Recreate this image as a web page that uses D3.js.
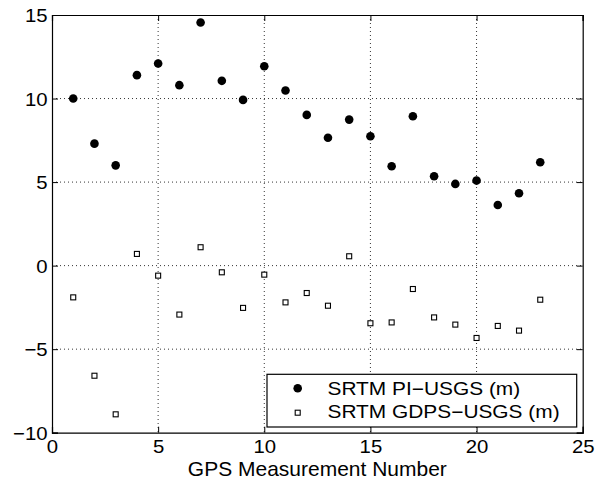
<!DOCTYPE html>
<meta charset="utf-8">
<script src="https://cdnjs.cloudflare.com/ajax/libs/d3/7.8.5/d3.min.js"></script>
<style>
  body { margin: 0; background: #fff; }
  text { font-family: "Liberation Sans", Arial, sans-serif; fill: #000; }
</style>
<div id="my_dataviz"></div>
<script>

// measurement numbers
var gpsNum = d3.range(1, 24);

// SRTM PI - USGS (m)
var piUsgs = [10.0, 7.3, 6.0, 11.4, 12.1, 10.8, 14.55, 11.06, 9.92, 11.93, 10.48, 9.02,
              7.65, 8.74, 7.74, 5.95, 8.94, 5.35, 4.89, 5.09, 3.63, 4.33, 6.19];

// SRTM GDPS - USGS (m)
var gdpsUsgs = [-1.9, -6.59, -8.9, 0.7, -0.6, -2.93, 1.1, -0.4, -2.53, -0.54, -2.2, -1.64,
                -2.4, 0.56, -3.45, -3.4, -1.4, -3.1, -3.53, -4.33, -3.61, -3.89, -2.04];

var xTicks = [0, 5, 10, 15, 20, 25];
var yTicks = [-10, -5, 0, 5, 10, 15];
var seriesNames = ["SRTM PI\u2212USGS (m)", "SRTM GDPS\u2212USGS (m)"];

var W = 605, H = 483;
var margin = {top: 15, right: 22.3, bottom: 50.3, left: 52},
    width = W - margin.left - margin.right,
    height = H - margin.top - margin.bottom;

var svg = d3.select("#my_dataviz").append("svg")
    .attr("width", W)
    .attr("height", H)
  .append("g")
    .attr("transform", "translate(" + margin.left + "," + margin.top + ")");

var x = d3.scaleLinear().domain([0, 25]).range([0, width]);
var y = d3.scaleLinear().domain([-10, 15]).range([height, 0]);

function fmt(d) { return d < 0 ? "\u2212" + Math.abs(d) : "" + d; }

// grid
svg.append("g").selectAll("line")
    .data(xTicks.slice(1, -1))
  .enter().append("line")
    .attr("x1", function(d) { return x(d); })
    .attr("x2", function(d) { return x(d); })
    .attr("y1", 0).attr("y2", height)
    .attr("stroke", "#000").attr("stroke-width", 0.8)
    .attr("stroke-dasharray", "1,3");

svg.append("g").selectAll("line")
    .data(yTicks.slice(1, -1))
  .enter().append("line")
    .attr("y1", function(d) { return y(d); })
    .attr("y2", function(d) { return y(d); })
    .attr("x1", 0).attr("x2", width)
    .attr("stroke", "#000").attr("stroke-width", 0.8)
    .attr("stroke-dasharray", "1,3");

// axes, inward ticks on all four sides
var tk = 6;
var xAxis = svg.append("g")
    .attr("transform", "translate(0," + height + ")")
    .call(d3.axisBottom(x).tickValues(xTicks).tickSize(-tk).tickPadding(7).tickFormat(fmt));
var xTop = svg.append("g")
    .call(d3.axisTop(x).tickValues(xTicks).tickSize(-tk).tickFormat(""));
var yAxis = svg.append("g")
    .call(d3.axisLeft(y).tickValues(yTicks).tickSize(-tk).tickPadding(4).tickFormat(fmt));
var yRight = svg.append("g")
    .attr("transform", "translate(" + width + ",0)")
    .call(d3.axisRight(y).tickValues(yTicks).tickSize(-tk).tickFormat(""));

[xAxis, xTop, yAxis, yRight].forEach(function(a) {
  a.select(".domain").attr("stroke", "#000").attr("stroke-width", 1.2);
  a.selectAll(".tick line").attr("stroke", "#000");
  a.selectAll("text")
      .style("font-size", "18.5px")
      .attr("fill", "#000")
      .attr("transform", "scale(1.1,1)");
});
yAxis.selectAll(".tick text").attr("dy", "0.36em");

// points
svg.append("g").selectAll("circle")
    .data(gpsNum)
  .enter().append("circle")
    .attr("cx", function(d) { return x(d); })
    .attr("cy", function(d, i) { return y(piUsgs[i]); })
    .attr("r", 4.3)
    .attr("fill", "#000");

var sq = 5;
svg.append("g").selectAll("rect")
    .data(gpsNum)
  .enter().append("rect")
    .attr("x", function(d) { return x(d) - sq / 2; })
    .attr("y", function(d, i) { return y(gdpsUsgs[i]) - sq / 2; })
    .attr("width", sq).attr("height", sq)
    .attr("fill", "#fff").attr("stroke", "#000").attr("stroke-width", 1.1);

// x label
svg.append("text")
    .attr("transform", "translate(" + (width / 2) + "," + (height + 43.3) + ") scale(1.05,1)")
    .attr("text-anchor", "middle")
    .style("font-size", "20px")
    .text("GPS Measurement Number");

// legend
var lg = svg.append("g").attr("transform", "translate(" + (267 - margin.left) + "," + (374.3 - margin.top) + ")");
lg.append("rect")
    .attr("width", 309.7).attr("height", 52.7)
    .attr("fill", "#fff").attr("stroke", "#000").attr("stroke-width", 1.2);

lg.append("circle").attr("cx", 30.7).attr("cy", 14).attr("r", 4.3).attr("fill", "#000");
lg.append("rect").attr("x", 30.7 - sq / 2).attr("y", 38.4 - sq / 2).attr("width", sq).attr("height", sq)
    .attr("fill", "#fff").attr("stroke", "#000").attr("stroke-width", 1.1);

lg.selectAll("text.lab")
    .data(seriesNames)
  .enter().append("text")
    .attr("class", "lab")
    .attr("transform", function(d, i) { return "translate(60.5," + (20.7 + i * 23) + ") scale(1.16,1)"; })
    .style("font-size", "18px")
    .text(function(d) { return d; });

</script>
